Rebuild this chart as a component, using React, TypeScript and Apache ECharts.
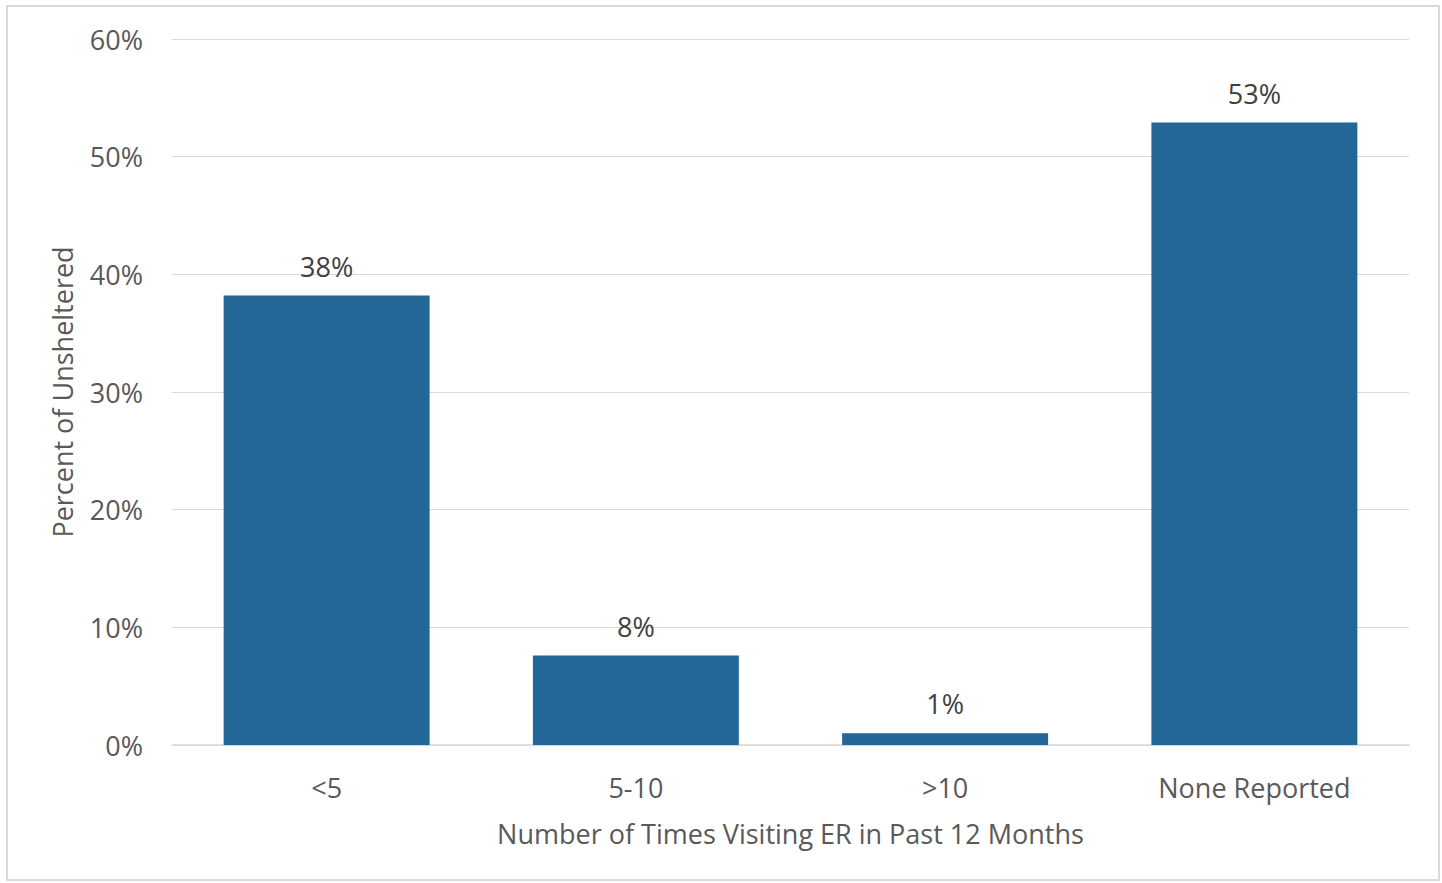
import React, { useEffect, useRef } from "react";
import * as echarts from "echarts";

const categories = ["<5", "5-10", ">10", "None Reported"];
const values = [38.2, 7.6, 1.0, 52.9];
const yTicks = [0, 10, 20, 30, 40, 50, 60];

const FONT = "'Open Sans', sans-serif";
const TEXT = "#595959";
const FS = 27;

export default function App() {
  const ref = useRef<HTMLDivElement>(null);
  useEffect(() => {
    const chart = echarts.init(ref.current!, undefined, { renderer: "svg" });
    chart.setOption({
      animation: false,
      backgroundColor: "#ffffff",
      graphic: [
        {
          type: "rect",
          shape: { x: 7, y: 6, width: 1432, height: 874 },
          style: { fill: "none", stroke: "#d9d9d9", lineWidth: 2 },
          silent: true,
        },
      ],
      grid: { left: 172, right: 33, top: 39, bottom: 138 },
      xAxis: {
        type: "category",
        data: categories,
        axisLine: { lineStyle: { color: "#d9d9d9", width: 1.5 } },
        axisTick: { show: false },
        axisLabel: { color: TEXT, fontFamily: FONT, fontSize: FS, margin: 29 },
        name: "Number of Times Visiting ER in Past 12 Months",
        nameLocation: "middle",
        nameGap: 75,
        nameTextStyle: { color: TEXT, fontFamily: FONT, fontSize: FS },
      },
      yAxis: {
        type: "value",
        min: 0,
        max: yTicks[yTicks.length - 1],
        interval: 10,
        axisLine: { show: false },
        axisTick: { show: false },
        splitLine: { lineStyle: { color: "#d9d9d9", width: 1 } },
        axisLabel: {
          color: TEXT,
          fontFamily: FONT,
          fontSize: FS,
          margin: 29,
          formatter: (v: number) => `${v}%`,
        },
        name: "Percent of Unsheltered",
        nameLocation: "middle",
        nameGap: 96,
        nameTextStyle: { color: TEXT, fontFamily: FONT, fontSize: FS },
      },
      series: [
        {
          type: "bar",
          data: values,
          barWidth: "66.6%",
          itemStyle: { color: "#236698" },
          label: {
            show: true,
            position: "top",
            distance: 16,
            color: "#404040",
            fontFamily: FONT,
            fontSize: FS,
            formatter: (p: any) => `${Math.round(p.value)}%`,
          },
        },
      ],
    });
    return () => chart.dispose();
  }, []);
  return (
    <div
      ref={ref}
      style={{ position: "fixed", left: 0, top: 0, width: 1442, height: 883 }}
    />
  );
}
